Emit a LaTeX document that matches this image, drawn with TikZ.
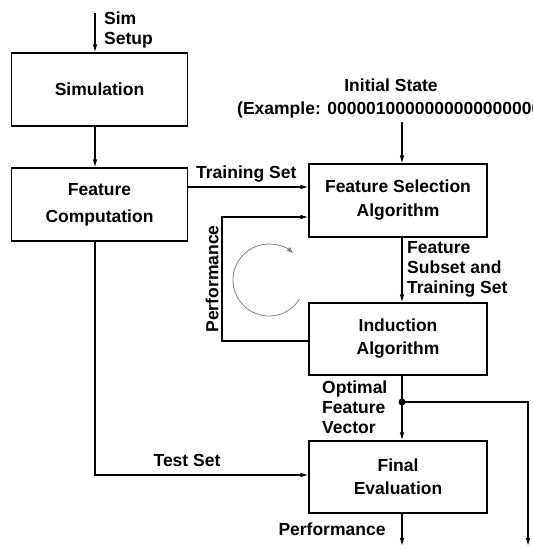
\documentclass[tikz,border=0pt]{standalone}
\usepackage{fontspec}
\setmainfont{Liberation Sans}
\usetikzlibrary{arrows.meta,calc}
\begin{document}
\begin{tikzpicture}[x=1pt,y=-1pt,
  every node/.style={font=\fontsize{17.5}{20}\bfseries\selectfont, inner sep=0pt},
  box/.style={draw, line width=1.1pt, minimum width=176pt, align=center},
  arr/.style={line width=1.1pt, -{Latex[length=8pt,width=4.5pt]}},
  ln/.style={line width=1.1pt}]
\useasboundingbox (0,0) rectangle (532,548);
% boxes
\node[box, minimum height=73pt] (sim) at (99.5,89.5) {Simulation};
\node[box, minimum height=73pt, font=\fontsize{17.5}{27}\bfseries\selectfont] (fc) at (99.5,204.5) {Feature\\Computation};
\node[box, minimum width=178pt, minimum height=73pt, font=\fontsize{17.5}{24}\bfseries\selectfont] (fsa) at (398,200.5) {Feature Selection\\Algorithm};
\node[box, minimum width=178pt, minimum height=72pt, font=\fontsize{17.5}{23}\bfseries\selectfont] (ind) at (398,339) {Induction\\Algorithm};
\node[box, minimum width=178pt, minimum height=72pt, font=\fontsize{17.5}{23}\bfseries\selectfont] (fin) at (398,477) {Final\\Evaluation};
% coordinates
\coordinate (simin) at (95,13);
\coordinate (isin) at (402,122);
\coordinate (dot) at (402,402);
\coordinate (fbl) at (222,341);
\coordinate (fbt) at (222,217);
\coordinate (tsl) at (95,475);
\coordinate (rout) at (528,546);
\coordinate (pout) at (402,546);
% labels
\node[anchor=west, align=left] (simlbl) at (104,30) {Sim\\Setup};
\node (isl) at (391,85) {Initial State};
\node[anchor=west] (exl) at (237,110) {(Example: 00000100000000000000000000)};
\node[anchor=west] (tsetl) at (196,174) {Training Set};
\node[anchor=west, align=left] (fstl) at (407,269) {Feature\\Subset and\\Training Set};
\node[anchor=west, align=left] (ofvl) at (322,407.5) {Optimal\\Feature\\Vector};
\node[rotate=90] (perfl) at (212,279) {Performance};
\node (testl) at (187,460) {Test Set};
\node (perfo) at (332,529) {Performance};
% connectors
\draw[arr] (simin) -- (sim.north -| simin);
\draw[arr] (sim.south -| simin) -- (fc.north -| simin);
\draw[arr] (fc.east |- 0,187) -- (fsa.west |- 0,187);
\draw[arr] (ind.west |- fbl) -- (fbl) -- (fbt) -- (fsa.west |- fbt);
\draw[arr] (isin) -- (isin |- fsa.north);
\draw[arr] (fsa.south -| isin) -- (ind.north -| isin);
\draw[arr] (ind.south -| isin) -- (fin.north -| isin);
\fill (dot) circle (3.5pt);
\draw[arr] (dot) -- (dot -| rout) -- (rout);
\draw[arr] (fc.south -| simin) -- (tsl) -- (fin.west |- tsl);
\draw[arr] (fin.south -| isin) -- (pout);
% cycle arrow
\draw[gray, line width=0.8pt, -{Latex[length=7pt,width=5pt]}] (269,280) ++(32:36) arc[start angle=32, end angle=313, radius=36];
\end{tikzpicture}
\end{document}
